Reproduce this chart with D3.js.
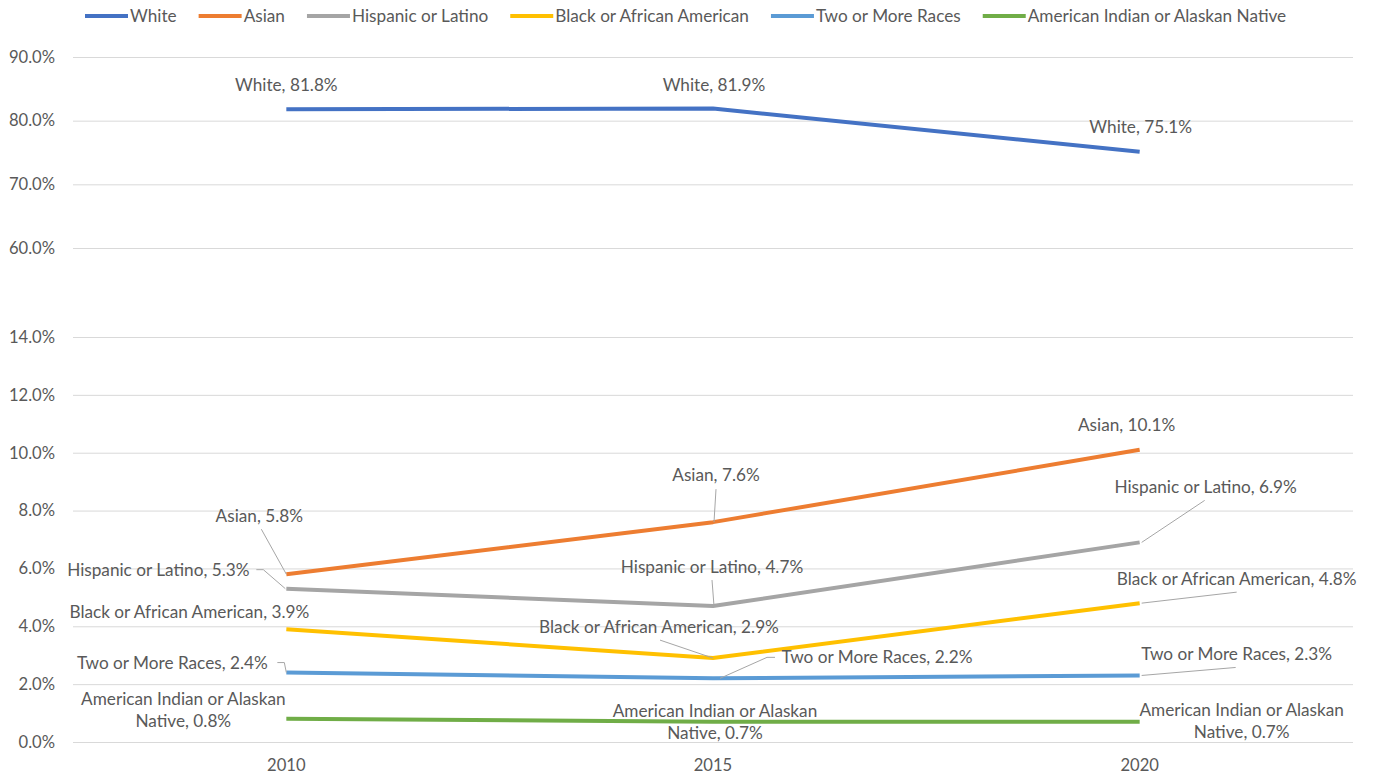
<!DOCTYPE html>
<html>
<head>
<meta charset="utf-8">
<script src="https://cdn.jsdelivr.net/npm/d3@7"></script>
<style>
  html, body { margin: 0; padding: 0; background: #fff; }
  svg { display: block; }
  text { font-family: Lato, "Open Sans", sans-serif; fill: #595959; }
</style>
</head>
<body>
<svg id="chart" width="1376" height="779"></svg>
<script>
// ---------------- data ----------------
const years = ["2010", "2015", "2020"];
const seriesNames = ["White", "Asian", "Hispanic or Latino", "Black or African American", "Two or More Races", "American Indian or Alaskan Native"];
const whiteValues    = [81.8, 81.9, 75.1];
const asianValues    = [5.8, 7.6, 10.1];
const hispanicValues = [5.3, 4.7, 6.9];
const blackValues    = [3.9, 2.9, 4.8];
const twoMoreValues  = [2.4, 2.2, 2.3];
const amIndValues    = [0.8, 0.7, 0.7];
const upperTicks = [60, 70, 80, 90];
const lowerTicks = [0, 2, 4, 6, 8, 10, 12, 14];

// ---------------- styles / layout ----------------
const colors = ["#4472C4", "#ED7D31", "#A5A5A5", "#FFC000", "#5B9BD5", "#70AD47"];
const panel = ["upper", "lower", "lower", "lower", "lower", "lower"];
const plotLeft = 73, plotRight = 1353;
const fontSize = 17.2;
const tickFontSize = 16.6;

// label offsets (center of text relative to point), leader polyline offsets
const labelLayout = [
  // White
  [ {dx: 0, dy: -24}, {dx: 1, dy: -24}, {dx: 1, dy: -25} ],
  // Asian
  [ {dx: -27, dy: -58, leader: [[-25, -45], [0, 0]]},
    {dx: 3, dy: -47, leader: [[3, -33], [1, 0]]},
    {dx: -13, dy: -25} ],
  // Hispanic
  [ {dx: -128, dy: -19, leader: [[-30, -19], [-23, -19], [-1, 0]]},
    {dx: -1, dy: -39, leader: [[-1, -26], [1, 0]]},
    {dx: 66, dy: -55, leader: [[65, -42], [2, 0]]} ],
  // Black
  [ {dx: -97, dy: -17},
    {dx: -54, dy: -31, leader: [[-53, -18], [0, 0]]},
    {dx: 97, dy: -24, leader: [[97, -11], [2, 0]]} ],
  // Two or more
  [ {dx: -114, dy: -10, leader: [[-9, -10], [-2, -10], [0, 0]]},
    {dx: 164, dy: -21, leader: [[62, -21], [54, -21], [7, 0]]},
    {dx: 97, dy: -21, leader: [[96, -8], [2, 0]]} ],
  // American Indian
  [ {dx: -103, dy: -9, twoLine: true},
    {dx: 2, dy: 0, twoLine: true},
    {dx: 102, dy: -1, twoLine: true} ]
];
const twoLineSplit = ["American Indian or Alaskan", "Native, "];

// ---------------- build ----------------
const allValues = [whiteValues, asianValues, hispanicValues, blackValues, twoMoreValues, amIndValues];
const series = seriesNames.map((name, i) => ({
  name, color: colors[i], panel: panel[i],
  values: years.map((y, j) => ({ year: y, value: allValues[i][j] })),
  layout: labelLayout[i]
}));

const svg = d3.select("#chart");

const x = d3.scaleBand().domain(years).range([plotLeft, plotRight]);
const xc = d => x(d) + x.bandwidth() / 2;
const yUpper = d3.scaleLinear().domain([60, 90]).range([248, 57]);
const yLower = d3.scaleLinear().domain([0, 14]).range([742, 337]);
const yFor = p => p === "upper" ? yUpper : yLower;

function drawAxis(scale, ticks) {
  const g = svg.append("g")
    .attr("transform", `translate(${plotLeft},0)`)
    .call(d3.axisLeft(scale)
      .tickValues(ticks)
      .tickSize(-(plotRight - plotLeft))
      .tickPadding(18)
      .tickFormat(d => d.toFixed(1) + "%"));
  g.select(".domain").remove();
  g.selectAll(".tick line").attr("stroke", "#d9d9d9").attr("stroke-width", 1);
  g.selectAll(".tick text")
    .attr("font-size", tickFontSize)
    .attr("fill", "#595959")
    .style("font-family", "Lato, 'Open Sans', sans-serif");
}
drawAxis(yUpper, upperTicks);
drawAxis(yLower, lowerTicks);

// x axis labels
const xAxis = svg.append("g")
  .attr("transform", `translate(0,742)`)
  .call(d3.axisBottom(x).tickSize(0).tickPadding(17));
xAxis.select(".domain").remove();
xAxis.selectAll(".tick text")
  .attr("font-size", tickFontSize)
  .attr("fill", "#595959")
  .style("font-family", "Lato, 'Open Sans', sans-serif");

// lines
const lineGen = s => d3.line()
  .x(d => xc(d.year))
  .y(d => yFor(s.panel)(d.value));

svg.append("g").selectAll("path")
  .data(series)
  .join("path")
  .attr("d", s => lineGen(s)(s.values))
  .attr("fill", "none")
  .attr("stroke", s => s.color)
  .attr("stroke-width", 4)
  .attr("stroke-linejoin", "round");

// leaders + labels
const lblG = svg.append("g");
series.forEach(s => {
  s.values.forEach((d, j) => {
    const px = xc(d.year), py = yFor(s.panel)(d.value);
    const L = s.layout[j];
    if (L.leader) {
      lblG.append("path")
        .attr("d", d3.line()(L.leader.map(p => [px + p[0], py + p[1]])))
        .attr("fill", "none")
        .attr("stroke", "#a6a6a6")
        .attr("stroke-width", 1);
    }
    const valStr = d.value.toFixed(1) + "%";
    if (L.twoLine) {
      const t = lblG.append("text")
        .attr("text-anchor", "middle")
        .attr("font-size", fontSize);
      t.append("tspan").attr("x", px + L.dx).attr("y", py + L.dy - 11).attr("dy", "0.35em").text(twoLineSplit[0]);
      t.append("tspan").attr("x", px + L.dx).attr("y", py + L.dy + 11).attr("dy", "0.35em").text(twoLineSplit[1] + valStr);
    } else {
      lblG.append("text")
        .attr("x", px + L.dx)
        .attr("y", py + L.dy)
        .attr("dy", "0.35em")
        .attr("text-anchor", "middle")
        .attr("font-size", fontSize)
        .text(`${s.name}, ${valStr}`);
    }
  });
});

// legend
const legend = svg.append("g").attr("transform", "translate(0,16)");
let lx = 85;
series.forEach(s => {
  const g = legend.append("g");
  g.append("line")
    .attr("x1", lx).attr("x2", lx + 43)
    .attr("y1", 0).attr("y2", 0)
    .attr("stroke", s.color).attr("stroke-width", 4);
  const t = g.append("text")
    .attr("x", lx + 45).attr("y", 0).attr("dy", "0.35em")
    .attr("font-size", fontSize)
    .text(s.name);
  lx += 45 + t.node().getComputedTextLength() + 22;
});
</script>
</body>
</html>
